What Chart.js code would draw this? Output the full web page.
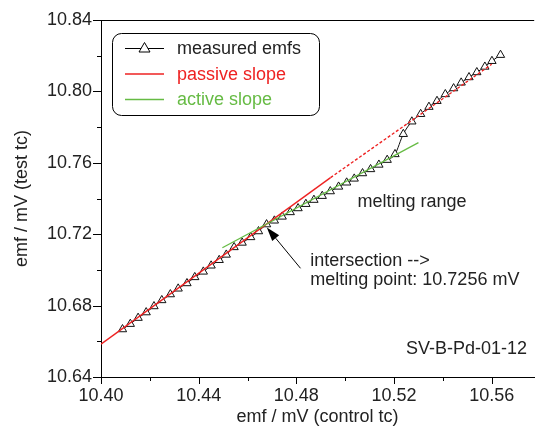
<!DOCTYPE html>
<html>
<head>
<meta charset="utf-8">
<script src="https://cdn.jsdelivr.net/npm/chart.js@4.4.0/dist/chart.umd.min.js"></script>
<style>
  html, body { margin: 0; padding: 0; background: #fff; }
  #wrap { width: 540px; height: 428px; position: relative; }
</style>
</head>
<body>
<div id="wrap"><canvas id="chart"></canvas></div>
<script>
// ---- data ----
const controlEmf = [10.4088, 10.4120, 10.4152, 10.4185, 10.4217, 10.4249, 10.4284, 10.4316, 10.4352, 10.4384,
  10.4419, 10.4451, 10.4484, 10.4513, 10.4545, 10.4578, 10.4613, 10.4645, 10.4678, 10.4710,
  10.4742, 10.4775, 10.4807, 10.4839, 10.4872, 10.4906, 10.4939, 10.4973, 10.5006, 10.5037,
  10.5071, 10.5104, 10.5138, 10.5172, 10.5204, 10.5238, 10.5273, 10.5309, 10.5343, 10.5376,
  10.5410, 10.5444, 10.5475, 10.5507, 10.5539, 10.5572, 10.5601, 10.5636];
const testEmf = [10.6667, 10.6697, 10.6731, 10.6762, 10.6796, 10.6830, 10.6863, 10.6895, 10.6925, 10.6959,
  10.6990, 10.7024, 10.7055, 10.7085, 10.7127, 10.7152, 10.7183, 10.7216, 10.7255, 10.7276,
  10.7298, 10.7323, 10.7345, 10.7369, 10.7392, 10.7414, 10.7440, 10.7466, 10.7489, 10.7511,
  10.7541, 10.7564, 10.7589, 10.7616, 10.7648, 10.7761, 10.7831, 10.7873, 10.7913, 10.7946,
  10.7984, 10.8017, 10.8049, 10.8079, 10.8107, 10.8138, 10.8170, 10.8204];

const passiveX = [10.400, 10.494];
const passiveY = [10.6584, 10.7517];
const passiveExtX = [10.494, 10.560];
const passiveExtY = [10.7517, 10.8152];
const activeX = [10.4497, 10.530];
const activeY = [10.7124, 10.7713];

const xTicks = [10.40, 10.42, 10.44, 10.46, 10.48, 10.50, 10.52, 10.54, 10.56];
const xLabelled = [10.40, 10.44, 10.48, 10.52, 10.56];
const yTicks = [10.64, 10.66, 10.68, 10.70, 10.72, 10.74, 10.76, 10.78, 10.80, 10.82, 10.84];
const yLabelled = [10.64, 10.68, 10.72, 10.76, 10.80, 10.84];

const meltingPoint = "10.7256";

const RED = "#ee2222", GREEN = "#66bb44", INK = "#222";
const FONT = "'Liberation Sans', Arial, sans-serif";

const pts = (xs, ys) => xs.map((x, i) => ({ x, y: ys[i] }));
const isLabelled = (list, v) => list.some(t => Math.abs(t - v) < 1e-6);

// ticks (major / minor), top frame line
const frame = {
  id: "frame",
  afterDraw(chart) {
    const { ctx, chartArea: a, scales: { x, y } } = chart;
    ctx.save();
    ctx.strokeStyle = "#000";
    ctx.lineWidth = 1;
    ctx.beginPath();
    ctx.moveTo(a.left, a.top + 0.5); ctx.lineTo(a.right, a.top + 0.5);
    xTicks.forEach(v => {
      const px = Math.round(x.getPixelForValue(v)) + 0.5;
      ctx.moveTo(px, a.bottom); ctx.lineTo(px, a.bottom + (isLabelled(xLabelled, v) ? 7 : 4));
    });
    yTicks.forEach(v => {
      const py = Math.round(y.getPixelForValue(v)) + 0.5;
      ctx.moveTo(a.left, py); ctx.lineTo(a.left - (isLabelled(yLabelled, v) ? 8 : 4), py);
    });
    ctx.stroke();
    ctx.restore();
  }
};

// legend box + text annotations + arrow
const notes = {
  id: "notes",
  afterDraw(chart) {
    const { ctx, scales: { x, y } } = chart;
    ctx.save();
    // legend
    ctx.strokeStyle = "#000"; ctx.lineWidth = 1;
    ctx.beginPath(); ctx.roundRect(112.5, 33.5, 207, 82, 9); ctx.stroke();
    const rows = [["measured emfs", "#000", INK, 48.5], ["passive slope", RED, RED, 74], ["active slope", GREEN, GREEN, 99.5]];
    ctx.font = "18px " + FONT; ctx.textBaseline = "middle";
    rows.forEach(([txt, lc, tc, ry], i) => {
      ctx.strokeStyle = lc; ctx.lineWidth = i ? 1.3 : 1;
      ctx.beginPath(); ctx.moveTo(125, ry); ctx.lineTo(164, ry); ctx.stroke();
      if (i === 0) {
        ctx.fillStyle = "#fff"; ctx.strokeStyle = "#000";
        ctx.beginPath(); ctx.moveTo(144.5, ry - 6); ctx.lineTo(150, ry + 3.5); ctx.lineTo(139, ry + 3.5); ctx.closePath();
        ctx.fill(); ctx.stroke();
      }
      ctx.fillStyle = tc; ctx.fillText(txt, 177, ry + 1);
    });
    // text notes
    ctx.fillStyle = INK;
    ctx.fillText("melting range", x.getPixelForValue(10.5050), y.getPixelForValue(10.7383));
    ctx.fillText("intersection -->", x.getPixelForValue(10.4857), y.getPixelForValue(10.7050));
    ctx.fillText("melting point: " + meltingPoint + " mV", x.getPixelForValue(10.4857), y.getPixelForValue(10.6945));
    ctx.textAlign = "right";
    ctx.fillText("SV-B-Pd-01-12", x.getPixelForValue(10.5745), y.getPixelForValue(10.6557));
    // arrow to the intersection
    const tx = x.getPixelForValue(10.4817), ty = y.getPixelForValue(10.7009);
    const hx = x.getPixelForValue(10.4679), hy = y.getPixelForValue(10.7238);
    const ang = Math.atan2(hy - ty, hx - tx), L = 14, W = 4.5;
    const bx = hx - L * Math.cos(ang), by = hy - L * Math.sin(ang);
    ctx.strokeStyle = "#000"; ctx.lineWidth = 1;
    ctx.beginPath(); ctx.moveTo(tx, ty); ctx.lineTo(bx, by); ctx.stroke();
    ctx.fillStyle = "#000";
    ctx.beginPath();
    ctx.moveTo(hx, hy);
    ctx.lineTo(bx + W * Math.sin(ang), by - W * Math.cos(ang));
    ctx.lineTo(bx - W * Math.sin(ang), by + W * Math.cos(ang));
    ctx.closePath(); ctx.fill();
    ctx.restore();
  }
};

new Chart(document.getElementById("chart"), {
  type: "scatter",
  data: {
    datasets: [
      { label: "active slope", data: pts(activeX, activeY), showLine: true, borderColor: GREEN, borderWidth: 1.3, pointRadius: 0, order: 0 },
      { label: "passive slope", data: pts(passiveX, passiveY), showLine: true, borderColor: RED, borderWidth: 1.4, pointRadius: 0, order: 0 },
      { label: "passive ext", data: pts(passiveExtX, passiveExtY), showLine: true, borderColor: RED, borderWidth: 1.4, borderDash: [3, 2], pointRadius: 0, order: 0 },
      { label: "measured emfs", data: pts(controlEmf, testEmf), showLine: true, borderColor: "#111", borderWidth: 1, order: 1,
        cubicInterpolationMode: "monotone", pointStyle: "triangle", pointRadius: 4.8,
        pointBackgroundColor: "#fff", pointBorderColor: "#111", pointBorderWidth: 1 },
    ],
  },
  options: {
    responsive: true,
    maintainAspectRatio: false,
    animation: false,
    devicePixelRatio: 1,
    layout: { padding: { top: 20, right: 0, left: 0, bottom: 0 } },
    plugins: { legend: { display: false }, tooltip: { enabled: false } },
    scales: {
      x: {
        type: "linear", min: 10.40, max: 10.5774,
        afterBuildTicks: s => { s.ticks = xLabelled.map(v => ({ value: v })); },
        afterFit: s => { s.height = 51; },
        grid: { display: false, drawTicks: false },
        border: { display: true, color: "#000", width: 1 },
        ticks: { padding: 8, color: INK, font: { family: FONT, size: 18 }, callback: v => Number(v).toFixed(2), maxRotation: 0 },
        title: { display: true, text: "emf / mV (control tc)", color: INK, font: { family: FONT, size: 18 }, padding: { top: 0, bottom: 0 } },
      },
      y: {
        type: "linear", min: 10.64, max: 10.84,
        afterBuildTicks: s => { s.ticks = yLabelled.map(v => ({ value: v })); },
        afterFit: s => { s.width = 101; },
        grid: { display: false, drawTicks: false },
        border: { display: true, color: "#000", width: 1 },
        ticks: { padding: 9, color: INK, font: { family: FONT, size: 18 }, callback: v => Number(v).toFixed(2) },
        title: { display: true, text: "emf / mV (test tc)", color: INK, font: { family: FONT, size: 18 }, padding: { top: 11, bottom: 0 } },
      },
    },
  },
  plugins: [frame, notes],
});
</script>
</body>
</html>
